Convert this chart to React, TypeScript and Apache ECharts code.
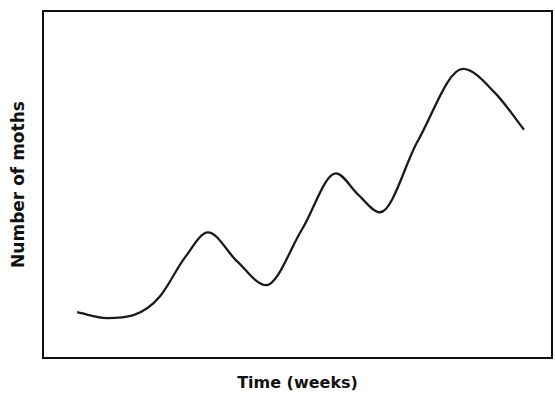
import React, { useEffect, useRef } from "react";
import * as echarts from "echarts";

// Time (weeks) and number of moths (relative units)
const weeks = [1.34, 2.51, 4.6, 5.58, 6.48, 7.62, 8.76, 10.18, 11.51, 12.38, 13.24, 14.73, 16.5, 17.76, 18.9];
const moths = [13.2, 11.5, 17.8, 29.0, 36.2, 27.9, 21.0, 37.1, 53.2, 47.1, 42.0, 62.6, 83.3, 76.4, 65.8];
const xTitle = "Time (weeks)";
const yTitle = "Number of moths";

function smoothPath(pts: number[][]): string {
  const n = pts.length;
  const dx: number[] = [];
  const m: number[] = [];
  for (let i = 0; i < n - 1; i++) {
    dx.push(pts[i + 1][0] - pts[i][0]);
    m.push((pts[i + 1][1] - pts[i][1]) / dx[i]);
  }
  const t: number[] = new Array(n).fill(0);
  t[0] = m[0];
  t[n - 1] = m[n - 2];
  for (let i = 1; i < n - 1; i++) {
    if (m[i - 1] * m[i] <= 0) t[i] = 0;
    else {
      const d0 = dx[i - 1];
      const d1 = dx[i];
      t[i] = (m[i - 1] * d1 + m[i] * d0) / (d0 + d1);
    }
  }
  let d = `M${pts[0][0]},${pts[0][1]}`;
  for (let i = 0; i < n - 1; i++) {
    const h = dx[i] / 3;
    const c1x = pts[i][0] + h;
    const c1y = pts[i][1] + t[i] * h;
    const c2x = pts[i + 1][0] - h;
    const c2y = pts[i + 1][1] - t[i + 1] * h;
    d += ` C${c1x},${c1y} ${c2x},${c2y} ${pts[i + 1][0]},${pts[i + 1][1]}`;
  }
  return d;
}

export default function App() {
  const ref = useRef<HTMLDivElement>(null);
  useEffect(() => {
    if (!ref.current) return;
    const chart = echarts.init(ref.current, null, { renderer: "svg" });
    const font = "'DejaVu Sans', Arial, sans-serif";
    chart.setOption({
      animation: false,
      backgroundColor: "#ffffff",
      grid: {
        left: 43,
        right: 3,
        top: 11,
        bottom: 36,
        show: true,
        borderColor: "#111111",
        borderWidth: 2,
        backgroundColor: "transparent",
      },
      xAxis: {
        type: "value",
        min: 0,
        max: 20,
        name: xTitle,
        nameLocation: "middle",
        nameGap: 16,
        nameTextStyle: { fontFamily: font, fontWeight: "bold", fontSize: 16, color: "#111111" },
        axisLine: { show: false },
        axisTick: { show: false },
        axisLabel: { show: false },
        splitLine: { show: false },
      },
      yAxis: {
        type: "value",
        min: 0,
        max: 100,
        name: yTitle,
        nameLocation: "middle",
        nameGap: 17,
        nameTextStyle: { fontFamily: font, fontWeight: "bold", fontSize: 17, color: "#111111" },
        axisLine: { show: false },
        axisTick: { show: false },
        axisLabel: { show: false },
        splitLine: { show: false },
      },
      series: [
        {
          type: "custom",
          data: weeks.map((w, i) => [w, moths[i]]),
          encode: { x: 0, y: 1 },
          renderItem: (params: any, api: any) => {
            if (params.dataIndex !== 0) return null;
            const pts = weeks.map((w, i) => api.coord([w, moths[i]]));
            return {
              type: "path",
              shape: { pathData: smoothPath(pts) },
              style: { fill: "none", stroke: "#1a1a1a", lineWidth: 2.3 },
            };
          },
        },
      ],
    });
    return () => chart.dispose();
  }, []);
  return (
    <div
      ref={ref}
      style={{ position: "fixed", left: 0, top: 0, width: 555, height: 395, background: "#fff" }}
    />
  );
}
